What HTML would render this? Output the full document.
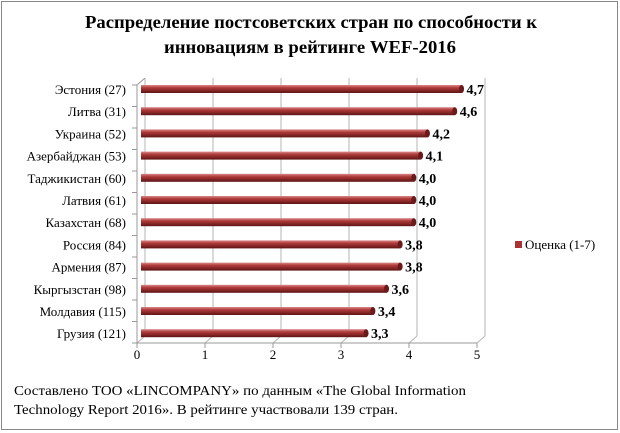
<!DOCTYPE html>
<html><head><meta charset="utf-8"><style>
body{margin:0;background:#fff}
svg{display:block;font-family:"Liberation Serif","DejaVu Serif",serif}
</style></head><body>
<svg width="620" height="433" viewBox="0 0 620 433">
<defs>
<linearGradient id="bg" x1="0" y1="0" x2="0" y2="1">
<stop offset="0" stop-color="#d98a8a"/><stop offset="0.35" stop-color="#b03a3a"/><stop offset="1" stop-color="#5e1414"/>
</linearGradient>
</defs>
<rect x="1.5" y="1.5" width="616" height="428" fill="#fff" stroke="#888" stroke-width="1"/>
<text x="311" y="28" text-anchor="middle" font-size="18" font-weight="bold" textLength="452" lengthAdjust="spacingAndGlyphs">Распределение постсоветских стран по способности к</text>
<text x="310" y="53" text-anchor="middle" font-size="18" font-weight="bold" textLength="292" lengthAdjust="spacingAndGlyphs">инновациям в рейтинге WEF-2016</text>
<g id="walls"></g>
<g id="bars"></g>
<g id="labels"></g>
<g id="ticks"></g>
<rect x="515" y="241" width="7" height="7" fill="#a33"/>
<text x="525" y="249" font-size="13">Оценка (1-7)</text>
<text x="14" y="395" font-size="14" textLength="452" lengthAdjust="spacingAndGlyphs">Составлено ТОО «LINCOMPANY» по данным  «The Global Information</text>
<text x="14" y="414" font-size="14" textLength="384" lengthAdjust="spacingAndGlyphs">Technology Report 2016». В рейтинге участвовали 139 стран.</text>
</svg>
<script>
const categories=["Эстония (27)","Литва (31)","Украина (52)","Азербайджан (53)","Таджикистан (60)","Латвия (61)","Казахстан (68)","Россия (84)","Армения (87)","Кыргызстан (98)","Молдавия (115)","Грузия (121)"];
const values=[4.7,4.6,4.2,4.1,4.0,4.0,4.0,3.8,3.8,3.6,3.4,3.3];
const valueLabels=["4,7","4,6","4,2","4,1","4,0","4,0","4,0","3,8","3,8","3,6","3,4","3,3"];
const ticks=[0,1,2,3,4,5];
const NS="http://www.w3.org/2000/svg";
function mk(tag,attrs,parent){const e=document.createElementNS(NS,tag);for(const k in attrs)e.setAttribute(k,attrs[k]);parent.appendChild(e);return e;}
const xFront=v=>137+v*68;
const xBack=v=>145+v*68;
const xBar=v=>141+v*68.2;
const yCat=i=>89+i*22.2;
const walls=document.getElementById('walls');
const bars=document.getElementById('bars');
const labels=document.getElementById('labels');
const tk=document.getElementById('ticks');
const wallTop=78,backBot=336,frontBot=343;
ticks.forEach(t=>{
  const l=mk('line',{x1:xBack(t),y1:wallTop,x2:xBack(t),y2:backBot,stroke:'#b5b5b5','stroke-width':1},walls);
  
  
  const d=mk('line',{x1:xBack(t),y1:backBot,x2:xFront(t),y2:frontBot,stroke:'#b5b5b5','stroke-width':1},walls);
  
  
});
mk('line',{x1:xFront(0),y1:wallTop+7,x2:xFront(0),y2:frontBot,stroke:'#999'},walls);
mk('line',{x1:xFront(0),y1:wallTop+7,x2:xBack(0),y2:wallTop,stroke:'#999'},walls);
mk('line',{x1:xFront(0),y1:frontBot,x2:xFront(5),y2:frontBot,stroke:'#999'},walls);
for(let i=0;i<=categories.length;i++){
  const y=wallTop+7+i*(frontBot-wallTop-7)/categories.length;
  mk('line',{x1:xFront(0)-5,y1:y,x2:xFront(0),y2:y,stroke:'#999'},walls);
}
categories.forEach((c,i)=>{
  const y=yCat(i),v=values[i],x1=xBar(v);
  const g=mk('g',{},bars);
  
  
  mk('rect',{x:141,y:y-4,width:x1-141,height:8,fill:'url(#bg)'},g);
  mk('ellipse',{cx:x1,cy:y,rx:2.5,ry:4,fill:'#6a1a1a'},g);
  const vt=mk('text',{x:x1+5,y:y+5,'font-size':14,'font-weight':'bold'},g);
  vt.textContent=valueLabels[i];
  
  
  const t=mk('text',{x:126,y:y+5,'text-anchor':'end','font-size':13},labels);
  t.textContent=c;
  
  
});
ticks.forEach(t=>{
  mk('line',{x1:xFront(t),y1:frontBot,x2:xFront(t),y2:frontBot+5,stroke:'#999'},tk);
  const tx=mk('text',{x:xFront(t),y:359,'text-anchor':'middle','font-size':13},tk);
  tx.textContent=String(t);
  
  
});
</script>
</body></html>
